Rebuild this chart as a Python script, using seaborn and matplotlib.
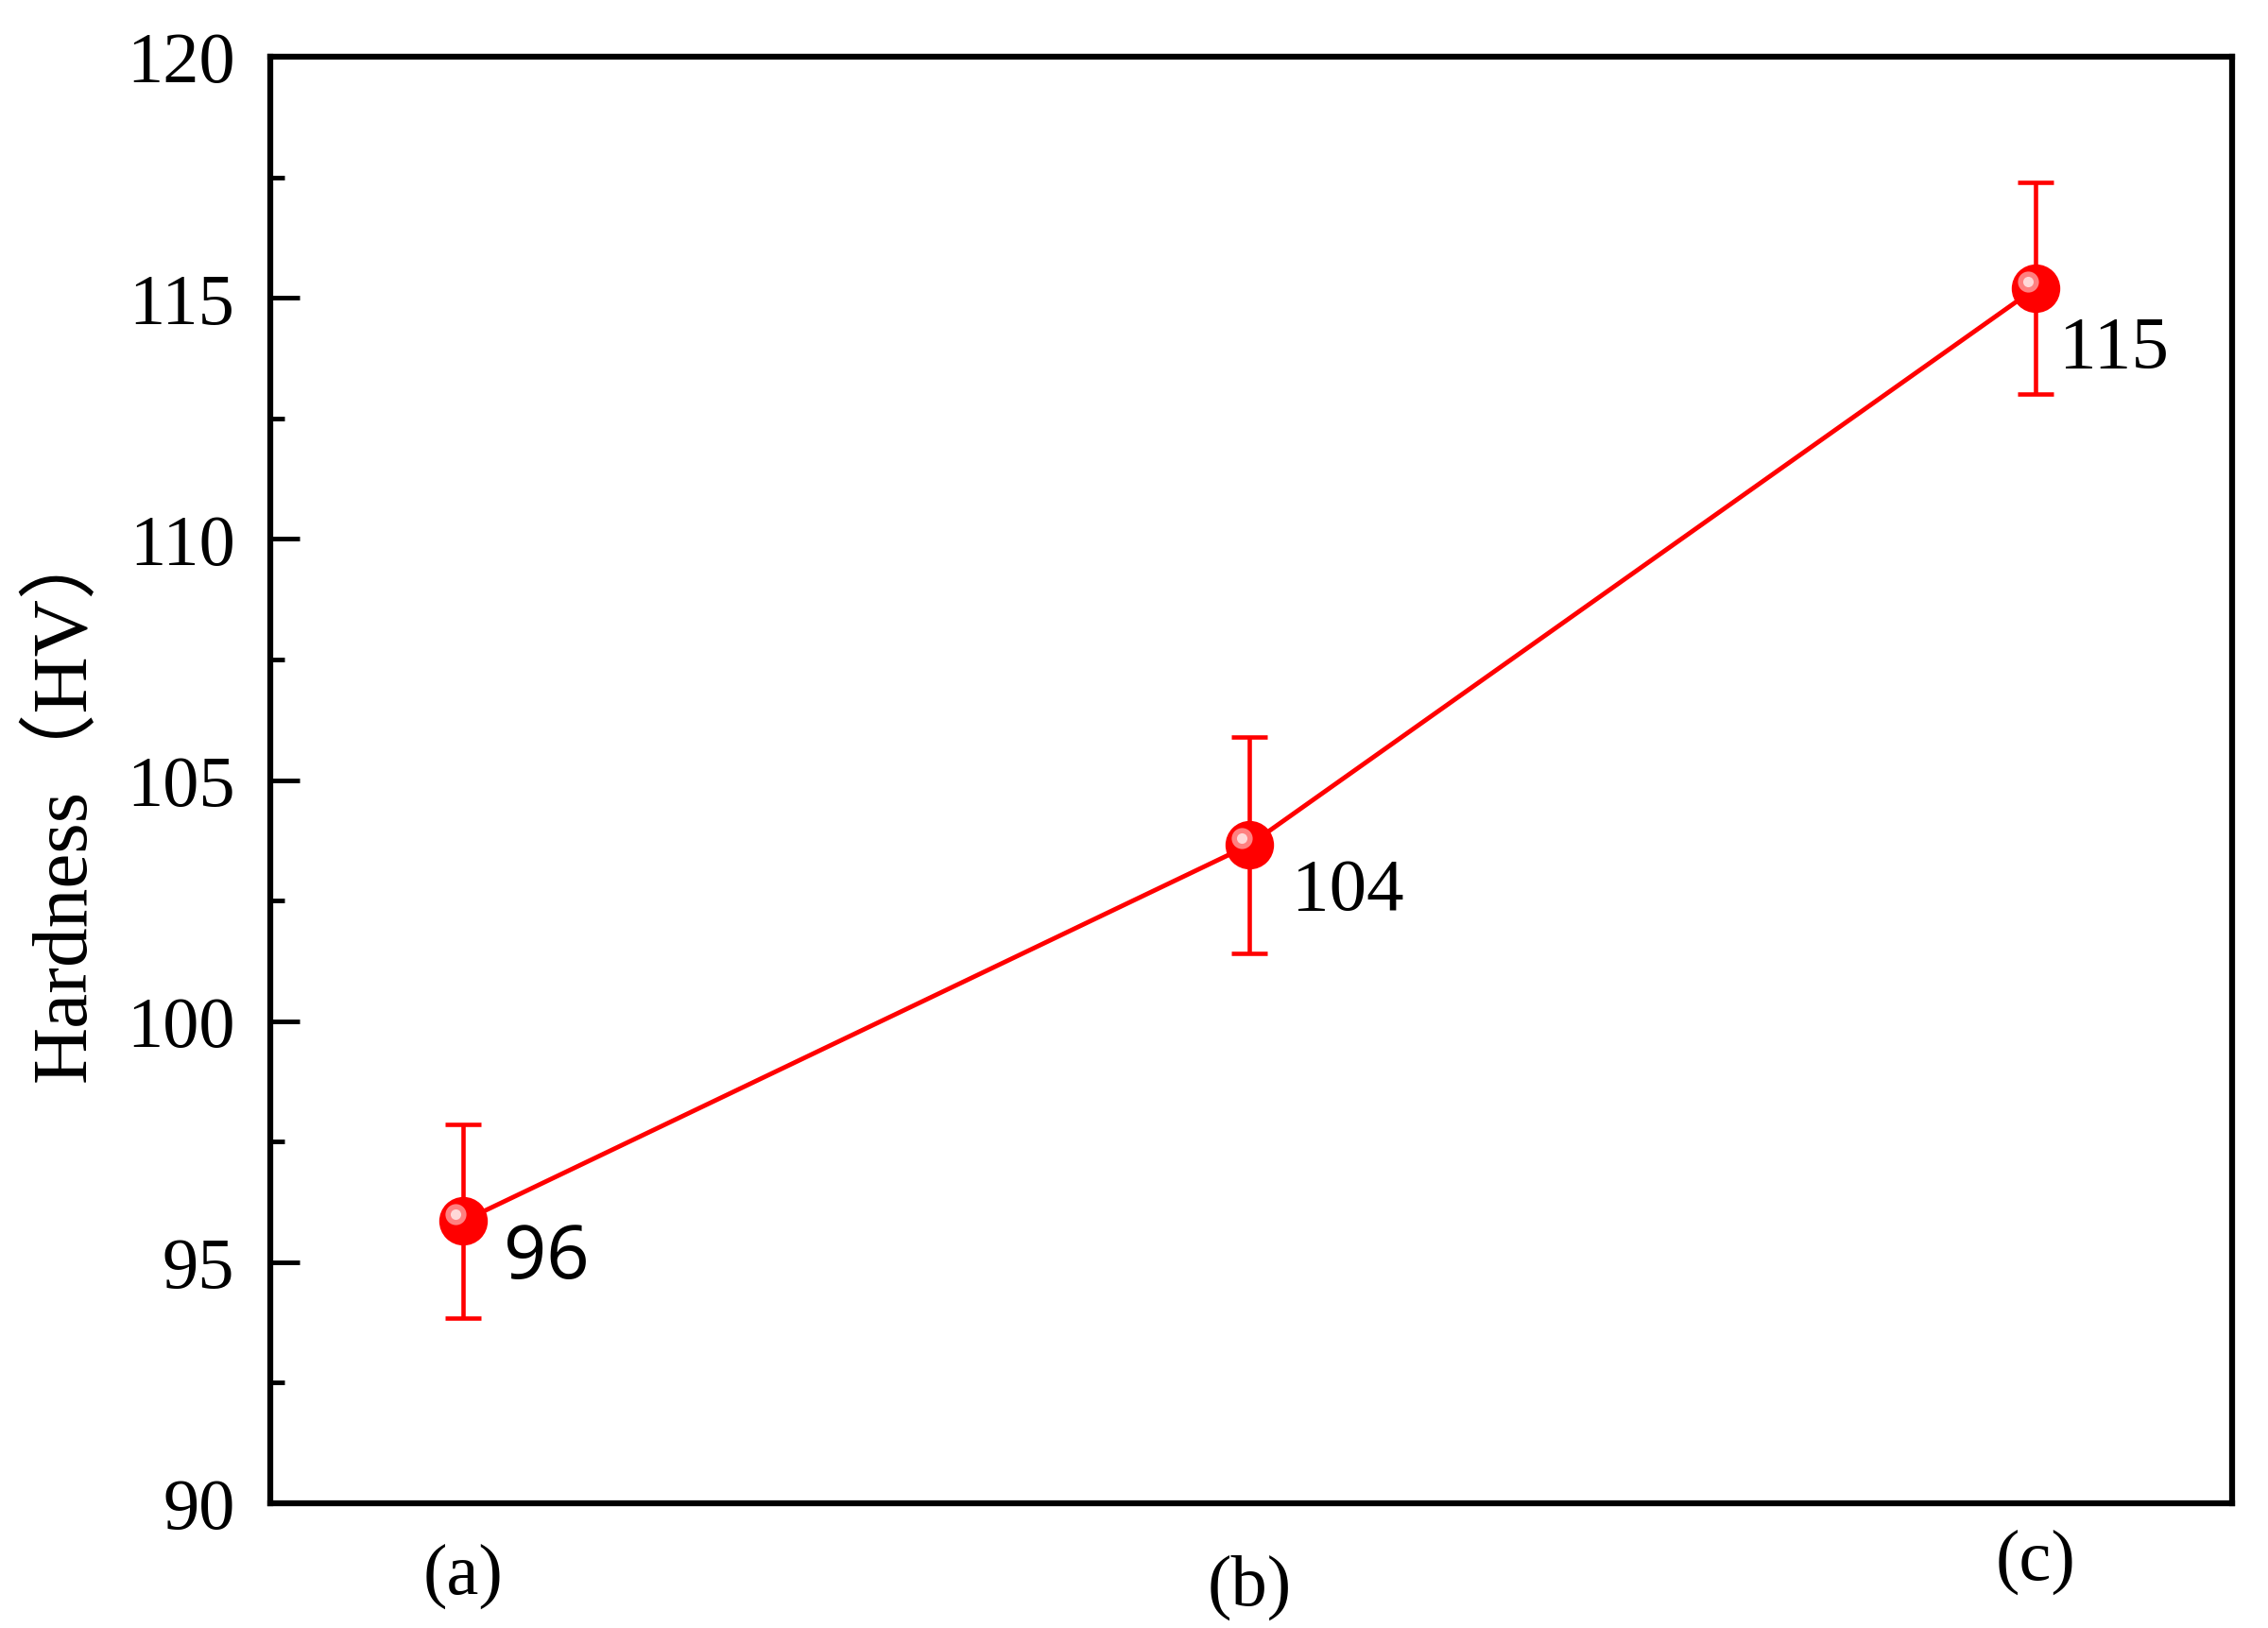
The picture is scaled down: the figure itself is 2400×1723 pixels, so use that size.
import numpy as np
import pandas as pd
import matplotlib
matplotlib.use('Agg')
import matplotlib.pyplot as plt
import matplotlib.ticker as mtick
import matplotlib.transforms as mtrans
import seaborn as sns

# values
samples = ['(a)', '(b)', '(c)']
hardness = [95.85, 103.65, 115.2]
hardness_err = [2.0, 2.25, 2.2]
value_labels = ['96', '104', '115']

# label placement (pixel offsets from the marker / axes fraction below axis)
value_offsets = [(43, -39), (45, -49), (25, -64)]
value_fonts = [['Noto Sans'], ['Liberation Serif'], ['Liberation Serif']]
sample_label_y = [-0.050, -0.058, -0.040]

sns.set_style('ticks')
plt.rcParams['font.family'] = ['Liberation Serif', 'Noto Sans CJK SC']
for k in ['text.color', 'axes.labelcolor', 'xtick.color', 'ytick.color', 'axes.edgecolor']:
    plt.rcParams[k] = 'black'

df = pd.DataFrame({'pos': np.arange(len(samples)), 'hardness': hardness, 'err': hardness_err})

fig = plt.figure(figsize=(24, 17.24), dpi=100)
ax = fig.add_axes([286/2400, 1 - 1592/1724, 2076/2400, 1531/1724])

ax.errorbar(df.pos, df.hardness, yerr=df.err, fmt='none', ecolor='red',
            elinewidth=3.3, capsize=14, capthick=3.3, zorder=2)
sns.lineplot(data=df, x='pos', y='hardness', color='red', linewidth=3.5,
             marker='o', markersize=37, markeredgewidth=0, errorbar=None,
             ax=ax, zorder=3)

# glossy highlight on the balls
shift = mtrans.ScaledTranslation(-8/100, 7/100, fig.dpi_scale_trans)
ax.plot(df.pos, df.hardness, 'o', ms=16, color='#ff8080', mew=0,
        transform=ax.transData + shift, zorder=4)
ax.plot(df.pos, df.hardness, 'o', ms=8, color='#ffd8d8', mew=0,
        transform=ax.transData + shift, zorder=5)

for i in range(len(samples)):
    ax.annotate(value_labels[i], (df.pos[i], df.hardness[i]), xytext=value_offsets[i],
                textcoords='offset pixels', ha='left', va='center', fontsize=57,
                family=value_fonts[i], fontweight='light', color='black')
    ax.text(df.pos[i], sample_label_y[i], samples[i], transform=ax.get_xaxis_transform(),
            ha='center', va='center', fontsize=55)

ax.set_xlim(-0.245, 2.25)
ax.set_ylim(90, 120)
ax.yaxis.set_major_locator(mtick.MultipleLocator(5))
ax.yaxis.set_minor_locator(mtick.MultipleLocator(2.5))
ax.tick_params(axis='y', which='major', direction='in', length=22, width=3.5,
               labelsize=55, pad=27, left=True, right=False)
ax.tick_params(axis='y', which='minor', direction='in', length=11, width=3.5,
               left=True, right=False)
ax.tick_params(axis='x', length=0, bottom=False, labelbottom=False)

for s in ax.spines.values():
    s.set_visible(True)
    s.set_linewidth(4.5)
    s.set_color('black')

ax.set_xlabel('')
ax.set_ylabel('Hardness（HV）', fontsize=60)
ax.yaxis.set_label_coords(-0.086, 0.487)

fig.savefig('out.png', dpi=100)
